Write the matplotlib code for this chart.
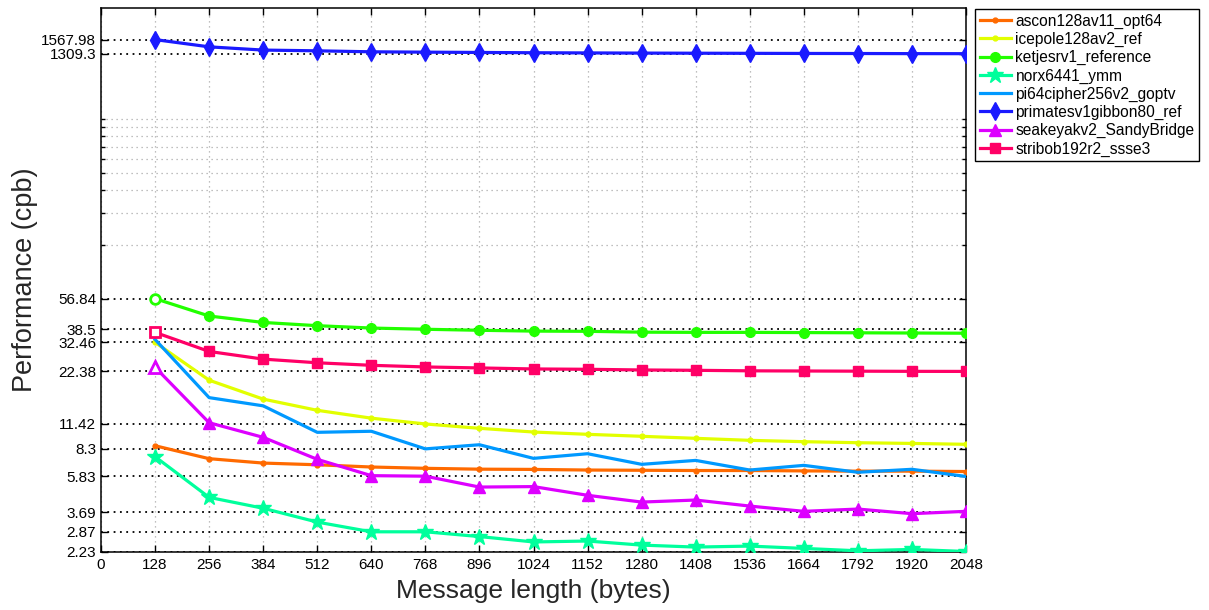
import matplotlib

matplotlib.use("Agg")
import matplotlib.pyplot as plt
from matplotlib.ticker import FixedLocator, NullFormatter

plt.rcParams["font.family"] = ["Liberation Sans", "DejaVu Sans"]

msg_len = [128, 256, 384, 512, 640, 768, 896, 1024, 1152, 1280, 1408, 1536, 1664, 1792, 1920, 2048]

ascon = [8.64, 7.32, 6.92, 6.77, 6.58, 6.47, 6.40, 6.38, 6.33, 6.31, 6.29, 6.29, 6.26, 6.24, 6.24, 6.21]
icepole = [32.46, 20.0, 15.7, 13.6, 12.3, 11.42, 10.8, 10.3, 10.0, 9.75, 9.50, 9.26, 9.10, 8.98, 8.90, 8.80]
ketjes = [56.84, 45.5, 41.9, 40.2, 39.0, 38.4, 37.9, 37.5, 37.4, 37.0, 36.9, 36.9, 36.8, 36.7, 36.6, 36.5]
norx = [7.51, 4.46, 3.88, 3.25, 2.87, 2.87, 2.70, 2.52, 2.55, 2.42, 2.36, 2.39, 2.32, 2.25, 2.29, 2.23]
pi64 = [33.7, 16.0, 14.4, 10.26, 10.4, 8.3, 8.75, 7.35, 7.80, 6.81, 7.16, 6.33, 6.72, 6.15, 6.39, 5.83]
primates = [1567.98, 1429, 1371, 1358, 1341, 1335, 1330, 1325, 1322, 1319, 1317, 1315, 1313, 1312, 1310, 1309.3]
seakeyak = [23.6, 11.6, 9.62, 7.26, 5.89, 5.85, 5.09, 5.12, 4.58, 4.20, 4.31, 3.99, 3.73, 3.84, 3.62, 3.73]
stribob = [36.9, 28.9, 26.2, 25.0, 24.2, 23.7, 23.4, 23.1, 23.0, 22.8, 22.7, 22.55, 22.5, 22.45, 22.4, 22.38]

names = ["ascon128av11_opt64", "icepole128av2_ref", "ketjesrv1_reference", "norx6441_ymm",
         "pi64cipher256v2_goptv", "primatesv1gibbon80_ref", "seakeyakv2_SandyBridge", "stribob192r2_ssse3"]

ytick_vals = [2.23, 2.87, 3.69, 5.83, 8.3, 11.42, 22.38, 32.46, 38.5, 56.84, 1309.3, 1567.98]
ytick_text = ["2.23", "2.87", "3.69", "5.83", "8.3", "11.42", "22.38", "32.46", "38.5", "56.84", "1309.3", "1567.98"]
yminor_vals = [56.84 * k for k in range(2, 11)]

series = [ascon, icepole, ketjes, norx, pi64, primates, seakeyak, stribob]
colors = ["#ff6a00", "#e2ff00", "#22ff00", "#00ff9c", "#0099ff", "#1a1aff", "#dd00ff", "#ff0066"]
markers = ["o", "o", "o", "*", None, "d", "^", "s"]
msizes = [3.5, 3.5, 7, 12, 0, 9, 9, 7]
open_first = [False, False, True, False, False, False, True, True]

fig = plt.figure(figsize=(12.09, 6.10), dpi=100)
ax = fig.add_axes([101 / 1209, 1 - 551.5 / 610, 865 / 1209, 543.5 / 610])

for vals, name, c, m, ms, hollow in zip(series, names, colors, markers, msizes, open_first):
    ax.plot(msg_len, vals, color=c, lw=2.3, marker=m, ms=ms, mfc=c, mec=c, label=name, zorder=3)
    if hollow:
        # first point drawn open
        ax.plot(msg_len[:1], vals[:1], ls="none", marker=m, ms=ms, mfc="white", mec=c,
                mew=2.0, zorder=4)

ax.set_yscale("log")
ax.set_xlim(0, 2048)
ax.set_ylim(2.23, 2350)
ax.set_xticks(range(0, 2049, 128))
ax.yaxis.set_major_locator(FixedLocator(ytick_vals))
ax.set_yticklabels(ytick_text)
ax.yaxis.set_minor_locator(FixedLocator(yminor_vals))
ax.yaxis.set_minor_formatter(NullFormatter())
ax.xaxis.set_minor_locator(FixedLocator([]))

ax.tick_params(which="both", direction="in", top=True, right=True, labelsize=11, width=1.0, colors="black")
ax.tick_params(which="major", length=5)
ax.tick_params(which="minor", length=3)
ax.tick_params(axis="x", pad=5)

ax.grid(axis="y", which="major", color="black", ls=(0, (1, 2.5)), lw=1.3, zorder=1)
ax.grid(axis="y", which="minor", color="#aaaaaa", ls=(0, (1, 3)), lw=0.9, zorder=1)
ax.grid(axis="x", which="major", color="#aaaaaa", ls=(0, (1, 3)), lw=0.9, zorder=1)
for s in ax.spines.values():
    s.set_linewidth(1.1)

ax.set_xlabel("Message length (bytes)", fontsize=19, color="#262626", labelpad=5)
ax.set_ylabel("Performance (cpb)", fontsize=19.5, color="#262626", labelpad=2)

leg = ax.legend(loc="upper left", bbox_to_anchor=(975 / 1209, 1 - 9 / 610), bbox_transform=fig.transFigure,
                borderaxespad=0, fancybox=False, edgecolor="black", framealpha=1, fontsize=11.2,
                handlelength=2.0, handletextpad=0.3, labelspacing=0.2, borderpad=0.3)
leg.get_frame().set_linewidth(1.0)

fig.savefig("out.png", dpi=100)
